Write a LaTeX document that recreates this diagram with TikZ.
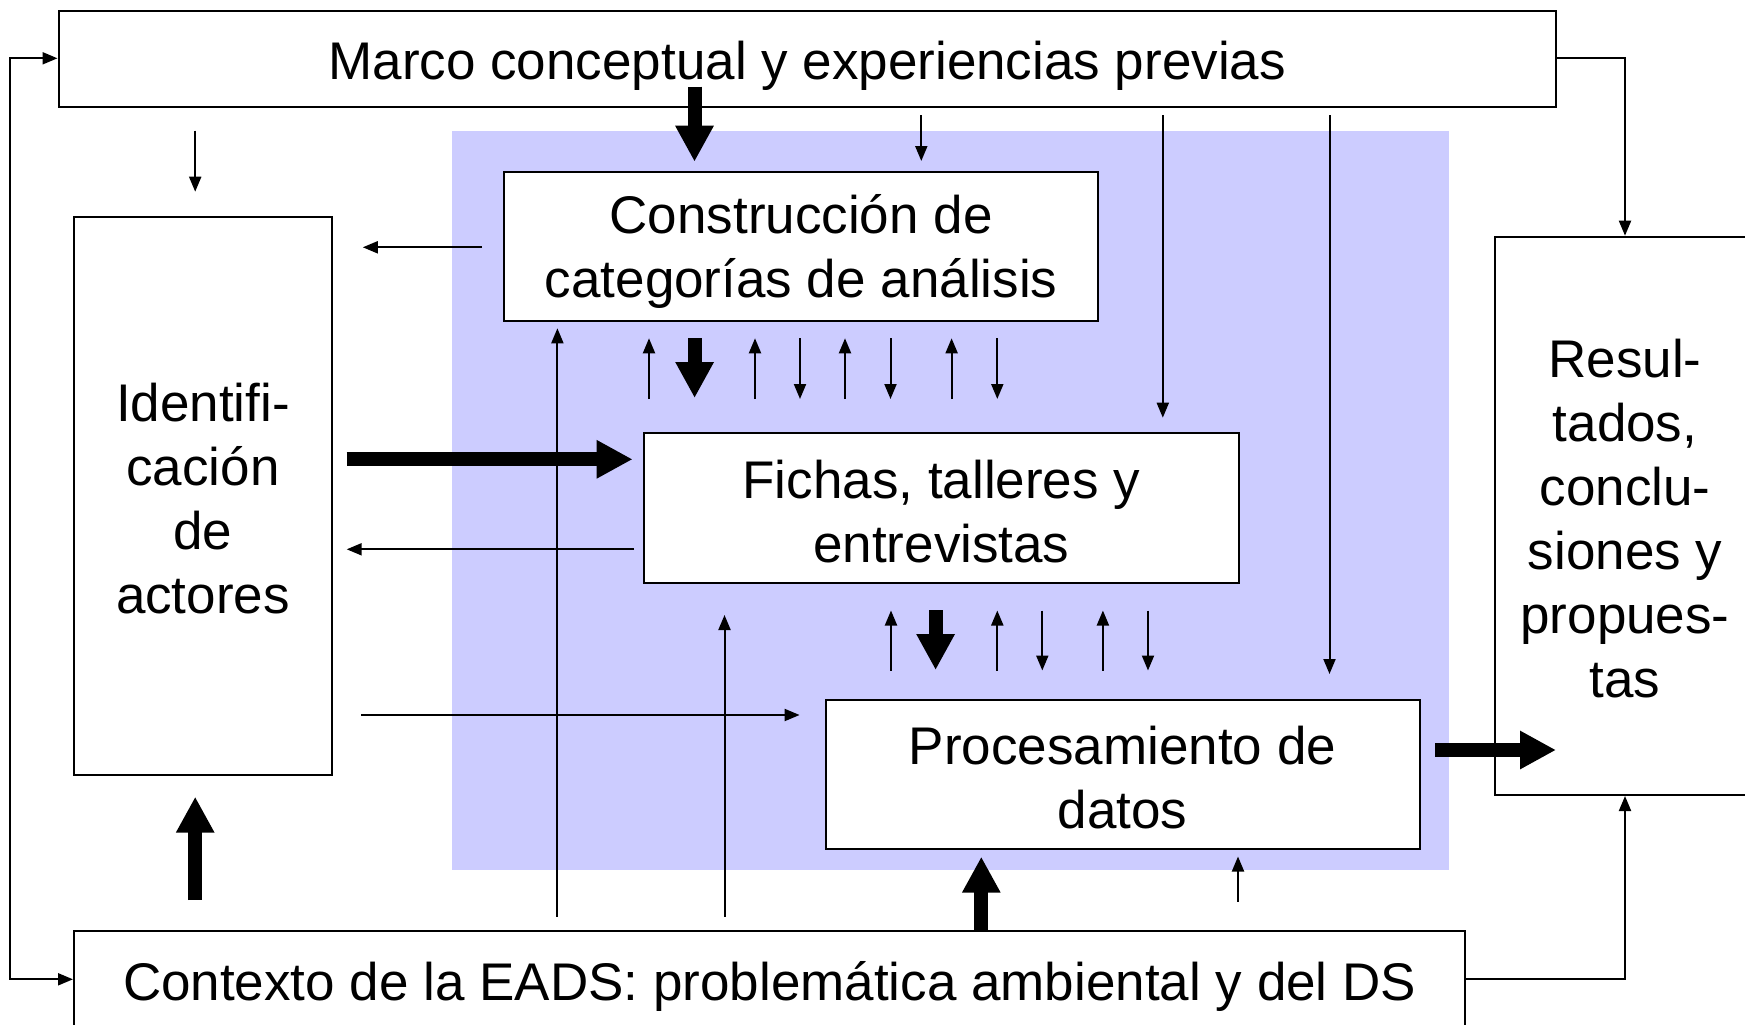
\documentclass[tikz,border=0pt]{standalone}
\usepackage{fontspec}
\setmainfont{Liberation Sans}
\usetikzlibrary{arrows.meta}
\definecolor{bluebg}{RGB}{204,204,255}
\begin{document}
\begin{tikzpicture}[x=1pt,y=-1pt,
  box/.style={draw=black, line width=2pt, fill=white, inner sep=0pt},
  txt/.style={align=center, inner sep=0pt, font=\fontsize{53}{64}\selectfont},
  thinarr/.style={line width=2pt, -{Triangle[length=15pt,width=12pt]}},
  thickarr/.style={line width=14pt, -{Triangle[length=36pt,width=36pt]}},
  bothnarr/.style={line width=2pt, {Triangle[length=15pt,width=12pt]}-{Triangle[length=15pt,width=12pt]}},
]
\useasboundingbox (0,0) rectangle (1745,1025);
\clip (0,0) rectangle (1745,1025);
\fill[bluebg] (451.8,131) rectangle (1449.3,870);

% boxes
\node[box, minimum width=1497.5pt, minimum height=96pt,
  label={[txt, yshift=-7pt]center:{Marco conceptual y experiencias previas}}] (marco) at (807.25,58.7) {};
\node[box, minimum width=594.3pt, minimum height=149.3pt,
  label={[txt, yshift=-5pt]center:{Construcción de\\categorías de análisis}}] (constr) at (801.15,246.35) {};
\node[box, minimum width=257.8pt, minimum height=558.3pt,
  label={[txt, yshift=-2.5pt]center:{Identifi-\\cación\\de\\actores}}] (ident) at (202.9,496.15) {};
\node[box, minimum width=594.7pt, minimum height=149.4pt,
  label={[txt, yshift=-3.5pt]center:{Fichas, talleres y\\entrevistas}}] (fichas) at (941.35,508) {};
\node[box, minimum width=594.1pt, minimum height=148.7pt,
  label={[txt, yshift=-3.5pt]center:{Procesamiento de\\datos}}] (proc) at (1122.55,774.35) {};
\node[box, minimum width=260pt, minimum height=558.3pt,
  label={[txt, yshift=-3pt]center:{Resul-\\tados,\\conclu-\\siones y\\propues-\\tas}}] (res) at (1625,515.85) {};
\node[box, minimum width=1391.3pt, minimum height=104pt,
  label={[txt, yshift=-3.5pt]center:{Contexto de la EADS: problemática ambiental y del DS}}] (ctx) at (769.65,983) {};

% outer loops
\draw[bothnarr] (marco.west |- 0,58.3) -- (10.3,58.3) -- (10.3,979.3) -- (ctx.west |- 0,979.3);
\draw[thinarr] (marco.east |- 0,58.3) -| (res.north);
\draw[thinarr] (ctx.east |- 0,979) -| (res.south);

% from Marco
\draw[thinarr] (195.2,130.7) -- (195.2,191.7);
\draw[thinarr] (921.3,115) -- (921.3,161);
\draw[thinarr] (1162.8,115) -- (1162.8,417.7);
\draw[thinarr] (1329.5,115) -- (1329.5,674);
\draw[thickarr] (694.5,86.7) -- (694.5,161.7);

% horizontal arrows
\draw[thinarr] (482,247.3) -- (362.8,247.3);
\draw[thinarr] (634,549.3) -- (346.7,549.3);
\draw[thinarr] (361,715) -- (799.6,715);
\draw[thickarr] (346.7,459.3) -- (632.6,459.3);
\draw[thickarr] (1435,750) -- (1556,750);

% from Contexto
\draw[thinarr] (557.4,916.7) -- (557.4,328.3);
\draw[thinarr] (724.5,916.7) -- (724.5,615);
\draw[thinarr] (1238,901.7) -- (1238,856.5);
\draw[thickarr] (195.2,900) -- (195.2,796.7);
\draw[thickarr] (981.3,931) -- (981.3,856.7);

% row between Construccion and Fichas
\foreach \x in {649,755,845,951.6} \draw[thinarr] (\x,399) -- (\x,338.3);
\foreach \x in {800,890.5,997.3} \draw[thinarr] (\x,338.3) -- (\x,399);
\draw[thickarr] (694.6,338.3) -- (694.6,398);

% row between Fichas and Procesamiento
\foreach \x in {891,997.3,1102.9} \draw[thinarr] (\x,670.5) -- (\x,610.5);
\foreach \x in {1042.3,1148} \draw[thinarr] (\x,610.5) -- (\x,670.5);
\draw[thickarr] (935.6,610) -- (935.6,670);
\end{tikzpicture}
\end{document}
